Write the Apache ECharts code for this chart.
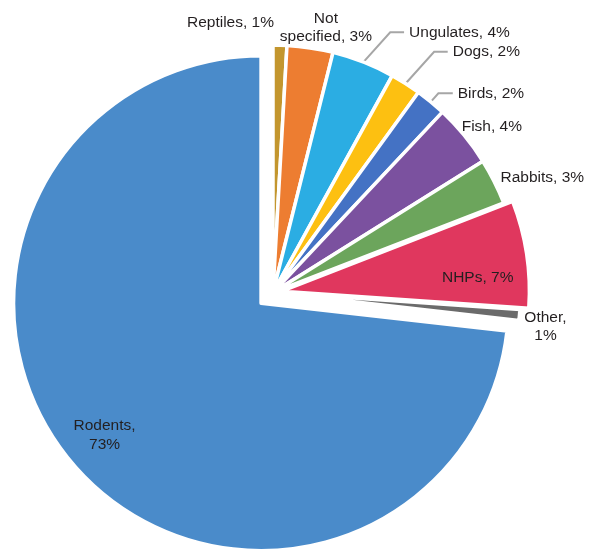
<!DOCTYPE html>
<html>
<head>
<meta charset="utf-8">
<script src="https://cdn.jsdelivr.net/npm/echarts@6/dist/echarts.min.js"></script>
<style>
  html, body { margin: 0; padding: 0; background: #ffffff; }
  #chart { width: 595px; height: 550px; }
</style>
</head>
<body>
<div id="chart"></div>
<script>
// ---- data ----
const categories = ['Reptiles', 'Not specified', 'Ungulates', 'Dogs', 'Birds', 'Fish', 'Rabbits', 'NHPs', 'Other', 'Rodents'];
const values     = [0.9, 3.0, 4.1, 2.0, 2.0, 4.1, 3.0, 7.0, 0.7, 73.2];

// ---- styling / layout (not data) ----
const colors = ['#C3962E', '#ED7D31', '#2BADE3', '#FDC011', '#4472C4', '#7B519F', '#6CA55C', '#E0375E', '#6B6B6B', '#4A8BCA'];
const baseCenter = [273, 292.5];
const outerRadius = 247.5;
const explode = { 'NHPs': 9, 'Rodents': 16 };   // px pulled out along the slice bisector
const labelSpec = {
  'Reptiles':      { pos: 'outside', line: false, len: 0, len2: 0, dx: -98, dy: -22.5 },
  'Not specified': { pos: 'outside', line: false, len: 0, len2: 0, dx: 10.7, dy: -20.3, align: 'center' },
  'Ungulates':     { pos: 'outside', line: true, len: 32, len2: 29 },
  'Dogs':          { pos: 'outside', line: true, len: 37.5, len2: 22 },
  'Birds':         { pos: 'outside', line: true, len: 11, len2: 15 },
  'Fish':          { pos: 'outside', line: false, len: 0, len2: 0, dx: -7.5, dy: -9 },
  'Rabbits':       { pos: 'outside', line: false, len: 0, len2: 0, dx: 1.3, dy: -3.9 },
  'NHPs':          { pos: 'inside', dx: 70.5, dy: 6 },
  'Other':         { pos: 'outside', line: false, len: 0, len2: 0, dx: 21, dy: 11.8, align: 'center' },
  'Rodents':       { pos: 'inside', dx: -62, dy: 47.5 }
};

function labelText(name, pct) {
  if (name === 'Not specified') return 'Not\nspecified, ' + pct + '%';
  if (name === 'Other' || name === 'Rodents') return name + ',\n' + pct + '%';
  return name + ', ' + pct + '%';
}

const total = values.reduce((a, b) => a + b, 0);
function midAngle(idx) { // radians, clockwise from 12 o'clock
  let before = 0;
  for (let i = 0; i < idx; i++) before += values[i];
  return ((before + values[idx] / 2) / total) * Math.PI * 2;
}

const textStyle = {
  color: '#231F20',
  fontFamily: "'Liberation Sans', Arial, Helvetica, sans-serif",
  fontSize: 15.5,
  lineHeight: 18.5
};

function labelLayout(params) {
  const spec = labelSpec[categories[params.dataIndex]];
  if (!spec || (spec.dx == null && spec.align == null)) return {};
  const out = {};
  if (spec.dx != null) { out.dx = spec.dx; out.dy = spec.dy; }
  if (spec.align) out.align = spec.align;
  return out;
}

function buildSeries(visibleNames, center) {
  return {
    type: 'pie',
    center: center,
    radius: [0, outerRadius],
    startAngle: 90,
    clockwise: true,
    percentPrecision: 0,
    avoidLabelOverlap: false,
    animation: false,
    emphasis: { disabled: true },
    labelLayout: labelLayout,
    data: categories.map((name, i) => {
      const vis = visibleNames.indexOf(name) >= 0;
      if (!vis) {
        return {
          name: name, value: values[i],
          itemStyle: { color: 'rgba(0,0,0,0)', borderWidth: 0 },
          label: { show: false }, labelLine: { show: false }
        };
      }
      const spec = labelSpec[name];
      return {
        name: name, value: values[i],
        itemStyle: { color: colors[i], borderColor: '#ffffff', borderWidth: 3.5 },
        label: Object.assign({
          show: true,
          position: spec.pos,
          distanceToLabelLine: 5,
          formatter: (p) => labelText(p.name, Math.round(p.percent))
        }, textStyle),
        labelLine: {
          show: !!spec.line,
          length: spec.len || 0,
          length2: spec.len2 || 0,
          smooth: false,
          minTurnAngle: 132,
          lineStyle: { color: '#A6A6A6', width: 2 }
        }
      };
    })
  };
}

const series = [];
const explodedNames = Object.keys(explode);
const restNames = categories.filter(n => explodedNames.indexOf(n) < 0);
series.push(buildSeries(restNames, baseCenter));
explodedNames.forEach(name => {
  const idx = categories.indexOf(name);
  const a = midAngle(idx);
  const d = explode[name];
  series.push(buildSeries([name], [baseCenter[0] + d * Math.sin(a), baseCenter[1] - d * Math.cos(a)]));
});

const chart = echarts.init(document.getElementById('chart'), null, { renderer: 'canvas' });
chart.setOption({
  backgroundColor: '#ffffff',
  animation: false,
  series: series
});
</script>
</body>
</html>
